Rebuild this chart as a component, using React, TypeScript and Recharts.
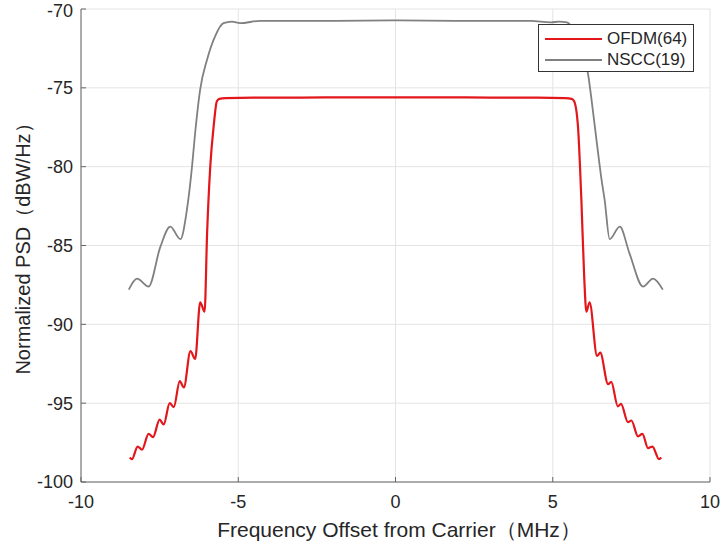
import { LineChart, Line, XAxis, YAxis, CartesianGrid, Legend } from "recharts";

// OFDM(64) spectrum (MHz, dBW/Hz)
const ofdmFreq = [
  -8.45, -8.38, -8.2, -8.06, -7.85, -7.71, -7.5, -7.37, -7.18, -7.05, -6.86, -6.73, -6.52, -6.37, -6.21, -6.07,
  -5.99, -5.89, -5.78, -5.68, -5.6, -5.4, -4.5, -3, -1.5, 0, 1.5, 3, 4.5, 5.4, 5.6, 5.68, 5.8, 5.91, 6.0, 6.07,
  6.17, 6.41, 6.51, 6.76, 6.86, 7.07, 7.17, 7.39, 7.5, 7.71, 7.85, 8.03, 8.17, 8.38, 8.45,
];
const ofdmPsd = [
  -98.45, -98.55, -97.75, -97.95, -96.95, -97.15, -96.05, -96.35, -95.0, -95.25, -93.6, -94.0, -91.7, -92.2, -88.6, -89.2,
  -84.2, -80.0, -77.4, -75.85, -75.7, -75.65, -75.62, -75.62, -75.6, -75.6, -75.6, -75.62, -75.62, -75.65, -75.7, -75.85, -77.4, -82.1, -87.0, -89.2,
  -88.6, -92.0, -91.8, -93.8, -93.65, -95.2, -95.05, -96.2, -96.1, -97.1, -96.95, -97.85, -97.75, -98.55, -98.45,
];

// NSCC(19) spectrum
const nsccFreq = [
  -8.48, -8.22, -7.85, -7.48, -7.16, -6.84, -6.63, -6.47, -6.37, -6.21, -5.99, -5.73, -5.47, -5.2, -4.94, -4.3, -2, 0,
  2, 4.3, 4.94, 5.2, 5.45, 5.73, 6.0, 6.12, 6.23, 6.39, 6.55, 6.65, 6.81, 7.13, 7.44, 7.87, 8.19, 8.5,
];
const nsccPsd = [
  -87.8, -87.1, -87.6, -85.1, -83.8, -84.6, -82.7, -80.0, -77.85, -75.1, -73.2, -71.7, -70.9, -70.8, -70.9, -70.75, -70.75, -70.72,
  -70.75, -70.75, -70.85, -70.8, -70.85, -71.6, -73.2, -74.1, -75.7, -78.3, -80.8, -82.1, -84.6, -83.8, -85.5, -87.6, -87.1, -87.8,
];

const xTicks = [-10, -5, 0, 5, 10];
const yTicks = [-100, -95, -90, -85, -80, -75, -70];
const seriesOrder = ["OFDM(64)", "NSCC(19)"];

const ofdmData = ofdmFreq.map((f, i) => ({ f, db: ofdmPsd[i] }));
const nsccData = nsccFreq.map((f, i) => ({ f, db: nsccPsd[i] }));

const FONT = '"Liberation Sans", Arial, sans-serif';
const AXIS = "#666";
const TEXT = "#262626";

function LegendBox(props: any) {
  const items = [...(props.payload || [])].sort((a: any, b: any) => seriesOrder.indexOf(a.value) - seriesOrder.indexOf(b.value));
  return (
    <div style={{ width: 154, height: 46, border: "1px solid #333", background: "#fff", fontFamily: FONT, fontSize: 17, color: TEXT }}>
      {items.map((it: any, i: number) => (
        <div key={i} style={{ display: "flex", alignItems: "center", height: 21, marginTop: i === 0 ? 3 : 0 }}>
          <div style={{ width: 57, height: 2, background: it.color, marginLeft: 6, marginRight: 5 }} />
          <span style={{ lineHeight: "21px" }}>{it.value}</span>
        </div>
      ))}
    </div>
  );
}

export default function App() {
  return (
    <div style={{ position: "absolute", left: 0, top: 0, width: 720, height: 544, background: "#fff" }}>
      <LineChart width={720} height={544} margin={{ top: 9, right: 10, left: 0, bottom: 0 }}>
        <CartesianGrid stroke="#e4e4e4" strokeWidth={1} />
        <XAxis
          dataKey="f"
          type="number"
          domain={[-10, 10]}
          ticks={xTicks}
          height={62}
          tickSize={-5}
          tickMargin={18}
          stroke={AXIS}
          tick={{ fill: TEXT, fontSize: 18, fontFamily: FONT }}
          label={{
            content: () => (
              <text x={399} y={529} textAnchor="middle" dominantBaseline="central" fill={TEXT} fontSize={21} fontFamily={FONT}>
                Frequency Offset from Carrier（MHz）
              </text>
            ),
          }}
        />
        <XAxis xAxisId="top" orientation="top" type="number" domain={[-10, 10]} ticks={xTicks} height={0} tickSize={-5} tickFormatter={() => ""} stroke={AXIS} />
        <YAxis
          type="number"
          domain={[-100, -70]}
          ticks={yTicks}
          width={81}
          tickSize={-5}
          tickMargin={13}
          stroke={AXIS}
          tick={{ fill: TEXT, fontSize: 18, fontFamily: FONT }}
          label={{
            content: () => (
              <text
                x={0}
                y={0}
                transform="translate(23,244) rotate(-90)"
                textAnchor="middle"
                dominantBaseline="central"
                fill={TEXT}
                fontSize={20}
                fontFamily={FONT}
              >
                Normalized PSD（dBW/Hz）
              </text>
            ),
          }}
        />
        <YAxis yAxisId="right" orientation="right" type="number" domain={[-100, -70]} ticks={yTicks} width={0} tickSize={-5} tickFormatter={() => ""} stroke={AXIS} />
        <Legend layout="horizontal" verticalAlign="middle" wrapperStyle={{ left: 538, top: 24, width: 156, height: 48 }} content={<LegendBox />} />
        <Line data={ofdmData} dataKey="db" name="OFDM(64)" type="monotone" stroke="#e3171b" strokeWidth={2.2} dot={false} isAnimationActive={false} />
        <Line data={nsccData} dataKey="db" name="NSCC(19)" type="monotone" stroke="#808080" strokeWidth={1.8} dot={false} isAnimationActive={false} />
      </LineChart>
    </div>
  );
}
